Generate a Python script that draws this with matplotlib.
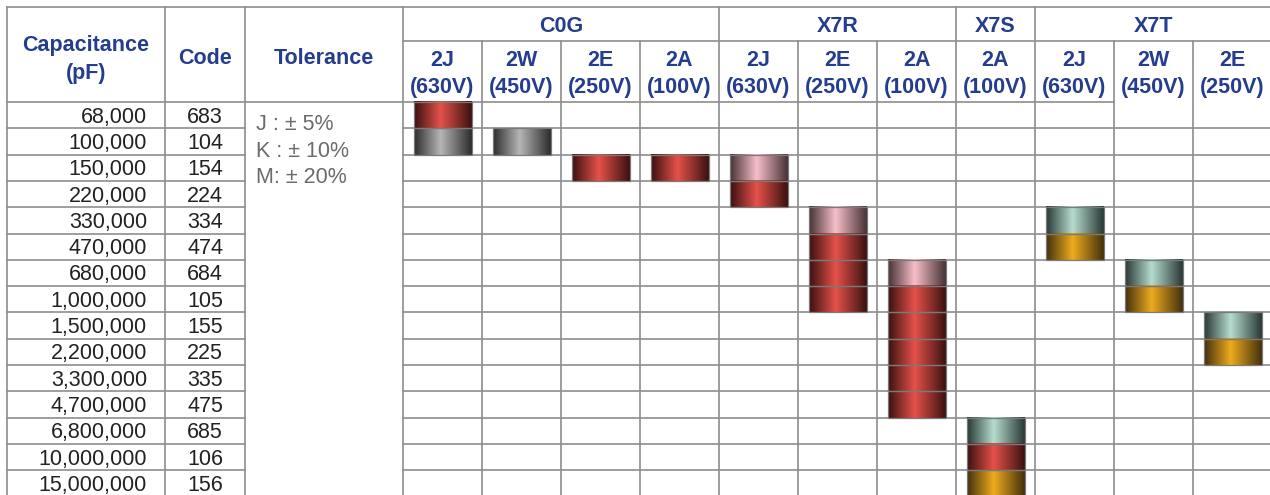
import numpy as np
import matplotlib
matplotlib.use("Agg")
import matplotlib.pyplot as plt
from matplotlib.colors import to_rgb

plt.rcParams['font.family'] = ['Liberation Sans', 'DejaVu Sans']

# dados da tabela
capacitance = ['68,000', '100,000', '150,000', '220,000', '330,000', '470,000', '680,000',
               '1,000,000', '1,500,000', '2,200,000', '3,300,000', '4,700,000', '6,800,000',
               '10,000,000', '15,000,000']
codes = ['683', '104', '154', '224', '334', '474', '684', '105', '155', '225', '335', '475',
         '685', '106', '156']
tolerance = ['J : \u00b1 5%', 'K : \u00b1 10%', 'M: \u00b1 20%']
groups = ['C0G', 'X7R', 'X7S', 'X7T']
group_span = [4, 3, 1, 3]
sub_codes = ['2J', '2W', '2E', '2A', '2J', '2E', '2A', '2A', '2J', '2W', '2E']
sub_volts = ['(630V)', '(450V)', '(250V)', '(100V)', '(630V)', '(250V)', '(100V)', '(100V)',
             '(630V)', '(450V)', '(250V)']

# cada coluna: linha inicial e tipos de segmento
bar_start = [0, 1, 2, 2, 2, 4, 6, 12, 4, 6, 8]
bar_kinds = [['red', 'gray'], ['gray'], ['red'], ['red'], ['pink', 'red'],
             ['pink', 'red', 'red', 'red'], ['pink', 'red', 'red', 'red', 'red', 'red'],
             ['teal', 'red', 'orange'], ['teal', 'orange'], ['teal', 'orange'], ['teal', 'orange']]

kind_colors = {
    'red': ('#3b1110', '#e5514a'),
    'gray': ('#2c2c2c', '#b6b6b6'),
    'pink': ('#463236', '#f7bfc8'),
    'teal': ('#293835', '#b6dccf'),
    'orange': ('#42300d', '#eeab1f'),
}

# layout (pixels)
W, H = 1270, 495
x_left, x_cap, x_code, x_tol = 7, 165, 245, 403
col_w = 79
y_top, y_grp, y_head = 7, 41, 102
row_h = 26.3
bar_pad = 10.5

header_col = '#243d8e'
line_col = '#8e8e8e'
lw = 1.2
fs = 15.5

fig = plt.figure(figsize=(W / 100, H / 100), dpi=100)
ax = fig.add_axes([0, 0, 1, 1])
ax.set_xlim(0, W)
ax.set_ylim(H, 0)
ax.axis('off')

n_rows = len(capacitance)
n_cols = len(sub_codes)
col_x = x_tol + col_w * np.arange(n_cols + 1)
row_y = y_head + row_h * np.arange(n_rows + 1)


def gradient(kind):
    dark = np.array(to_rgb(kind_colors[kind][0]))
    bright = np.array(to_rgb(kind_colors[kind][1]))
    t = np.linspace(0, 1, 200)
    w = np.where(t < 0.46, t / 0.46, (1 - t) / 0.54)
    w = np.clip(w, 0, 1)
    img = dark[None, :] + (bright - dark)[None, :] * w[:, None]
    return img[None, :, :]


# barras (segmentos com gradiente)
for c in range(n_cols):
    x0 = col_x[c] + bar_pad
    x1 = col_x[c + 1] - bar_pad
    for k, kind in enumerate(bar_kinds[c]):
        r = bar_start[c] + k
        y0, y1 = row_y[r], row_y[r + 1]
        ax.imshow(gradient(kind), extent=(x0, x1, y1, y0), aspect='auto',
                  interpolation='bilinear', zorder=2)
        ax.plot([x0, x1, x1, x0, x0], [y0, y0, y1, y1, y0], color='#7a7a7a', lw=0.9, zorder=3)

# linhas da grade
ax.plot([x_left, W], [y_top, y_top], color=line_col, lw=lw, zorder=1)
ax.plot([x_tol, W], [y_grp, y_grp], color=line_col, lw=lw, zorder=1)
ax.plot([x_left, col_x[9]], [y_head, y_head], color=line_col, lw=lw, zorder=1)
for y in row_y[1:]:
    ax.plot([x_left, x_code], [y, y], color=line_col, lw=lw, zorder=1)
    ax.plot([x_tol, W], [y, y], color=line_col, lw=lw, zorder=1)
for x in [x_left, x_cap, x_code, x_tol]:
    ax.plot([x, x], [y_top, H], color=line_col, lw=lw, zorder=1)
bounds = np.cumsum(group_span)
for c in range(1, n_cols):
    top = y_top if c in bounds else y_grp
    ax.plot([col_x[c], col_x[c]], [top, H], color=line_col, lw=lw, zorder=1)

# cabeçalhos
ax.text((x_left + x_cap) / 2, 46, 'Capacitance', ha='center', va='center', fontsize=fs,
        fontweight='bold', color=header_col)
ax.text((x_left + x_cap) / 2, 73, '(pF)', ha='center', va='center', fontsize=fs,
        fontweight='bold', color=header_col)
ax.text((x_cap + x_code) / 2, 58, 'Code', ha='center', va='center', fontsize=fs,
        fontweight='bold', color=header_col)
ax.text((x_code + x_tol) / 2, 58, 'Tolerance', ha='center', va='center', fontsize=fs,
        fontweight='bold', color=header_col)

start = 0
for g, span in zip(groups, group_span):
    xc = (col_x[start] + col_x[min(start + span, n_cols)]) / 2
    ax.text(xc, 26, g, ha='center', va='center', fontsize=fs, fontweight='bold', color=header_col)
    start += span

for c in range(n_cols):
    xc = (col_x[c] + col_x[c + 1]) / 2
    ax.text(xc, 61, sub_codes[c], ha='center', va='center', fontsize=fs,
            fontweight='bold', color=header_col)
    ax.text(xc, 87, sub_volts[c], ha='center', va='center', fontsize=fs,
            fontweight='bold', color=header_col)

# valores
for r in range(n_rows):
    yc = (row_y[r] + row_y[r + 1]) / 2 + 2
    ax.text(x_cap - 18, yc, capacitance[r], ha='right', va='center', fontsize=fs, color='#222222')
    ax.text((x_cap + x_code) / 2, yc, codes[r], ha='center', va='center', fontsize=fs,
            color='#222222')

for i, t in enumerate(tolerance):
    ax.text(256, 125 + 26.3 * i, t, ha='left', va='center', fontsize=fs, color='#6b6b6b')

fig.savefig('out.png', dpi=100)
plt.close(fig)
